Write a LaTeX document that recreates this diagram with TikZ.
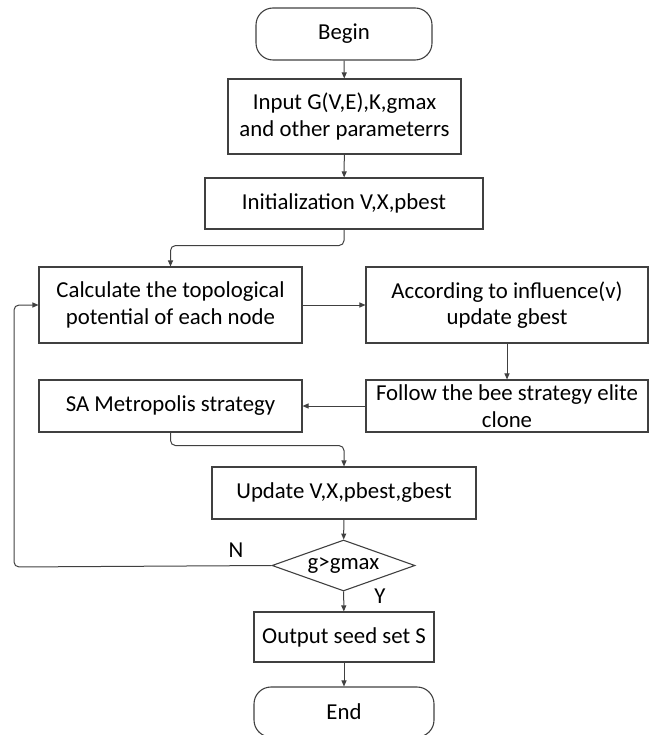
\documentclass[tikz,border=0pt]{standalone}
\usepackage{fontspec}
\setmainfont{Carlito}
\usetikzlibrary{shapes.geometric,arrows.meta}
\begin{document}
\begin{tikzpicture}[x=1pt,y=-1pt,
  every node/.style={font=\fontsize{22.8}{26.5}\selectfont, text=black},
  box/.style={draw=black!75, line width=1.1pt, align=center, inner sep=0pt},
  term/.style={box, rounded corners=17pt},
  decide/.style={draw=black!75, line width=1.1pt, diamond, aspect=2.8, inner sep=0pt},
  conn/.style={draw=black!75, line width=1pt, rounded corners=5pt, -{Triangle[length=6pt,width=5pt]}},
  lbl/.style={inner sep=0pt}]
\useasboundingbox (0,0) rectangle (649,735);
\node[term, minimum width=176pt, minimum height=52pt] (begin) at (344,34) {Begin};
\node[box, minimum width=233pt, minimum height=75pt] (input) at (344.5,116.5) {Input G(V,E),K,gmax\\and other parameterrs};
\node[box, minimum width=278pt, minimum height=51pt] (init) at (344,203.5) {Initialization V,X,pbest};
\node[box, minimum width=263pt, minimum height=76pt] (calc) at (170.5,305) {Calculate the topological\\potential of each node};
\node[box, minimum width=282pt, minimum height=76pt] (acc) at (507,305) {According to influence(v)\\update gbest};
\node[box, minimum width=263pt, minimum height=52pt] (sa) at (170.5,406) {SA Metropolis strategy};
\node[box, minimum width=282pt, minimum height=52pt] (fol) at (507,406) {Follow the bee strategy elite\\clone};
\node[box, minimum width=264pt, minimum height=52pt] (upd) at (344,493) {Update V,X,pbest,gbest};
\node[decide, minimum width=143pt, minimum height=51pt] (dia) at (343.5,565.5) {g>gmax};
\node[box, minimum width=180pt, minimum height=50pt] (out) at (344,637) {Output seed set S};
\node[term, minimum width=180pt, minimum height=50pt] (end) at (344,712) {End};
\node[lbl] (nlab) at (236,550) {N};
\node[lbl] (ylab) at (380,596) {Y};
\coordinate (lp) at (14,567);
\draw[conn] (begin) -- (input);
\draw[conn] (input) -- (init);
\draw[conn] (init.south) -- ++(0,16) -| (calc.north);
\draw[conn] (calc) -- (acc);
\draw[conn] (acc) -- (fol);
\draw[conn] (fol) -- (sa);
\draw[conn] (sa.south) -- ++(0,13) -| (upd.north);
\draw[conn] (upd) -- (dia);
\draw[conn] (dia.west) -- (lp) |- (calc.west);
\draw[conn] (dia) -- (out);
\draw[conn] (out) -- (end);
\end{tikzpicture}
\end{document}
